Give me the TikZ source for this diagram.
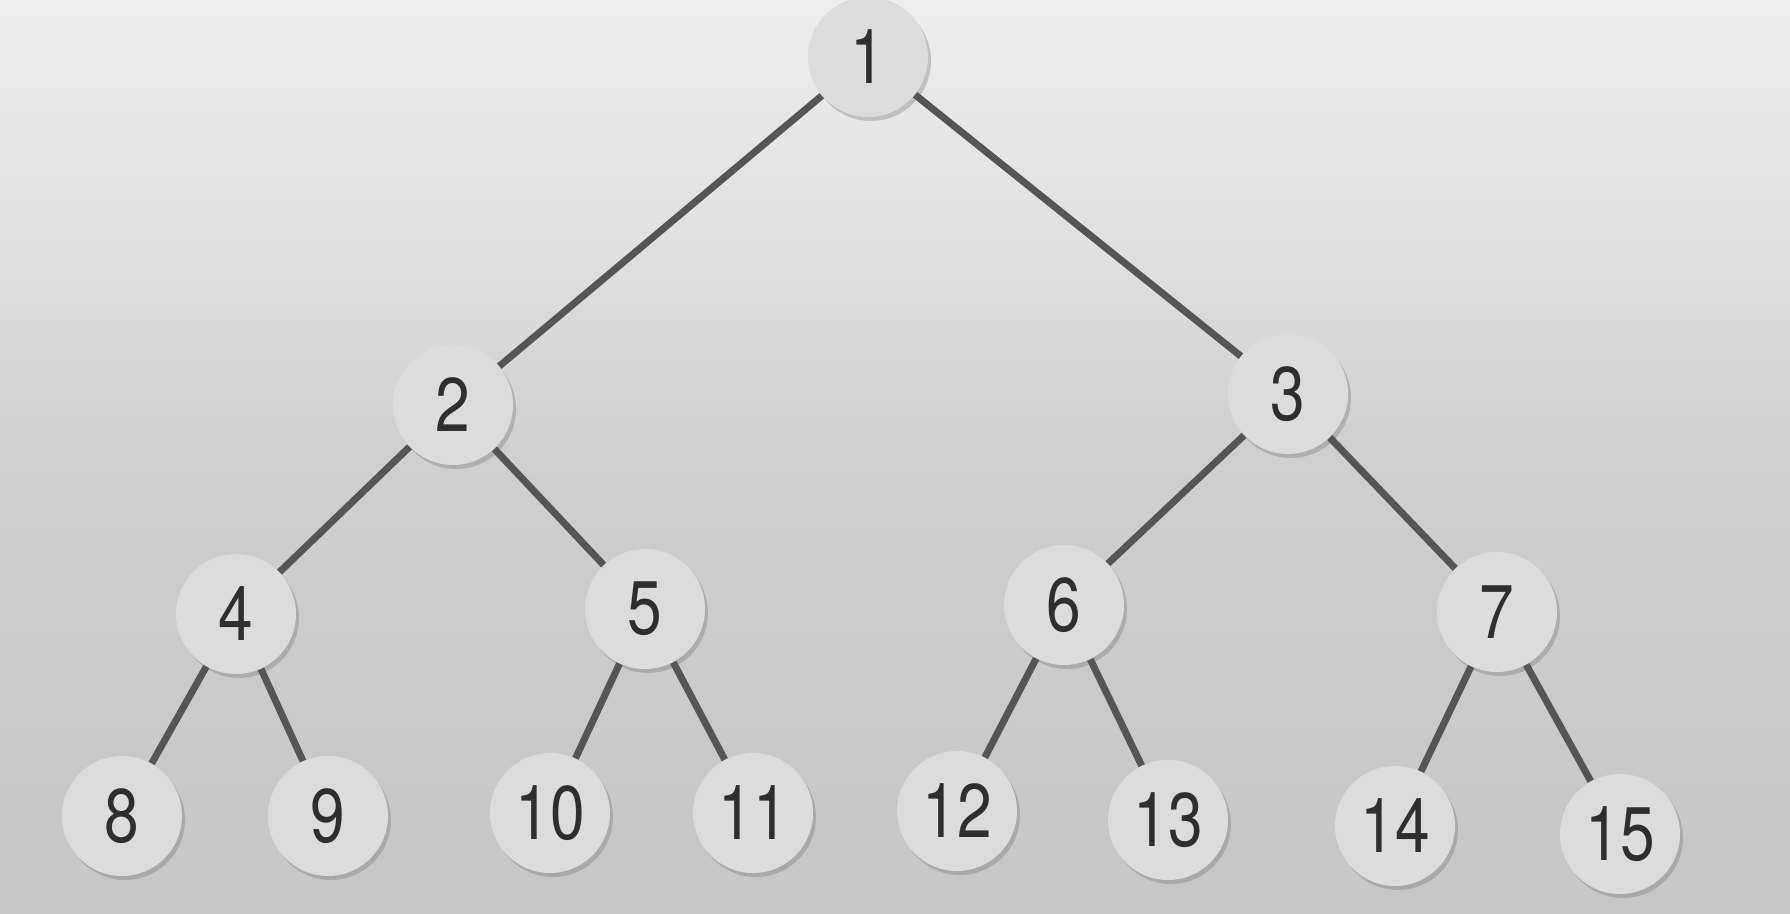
\documentclass[tikz,border=0pt]{standalone}
\usepackage{fontspec}
\setmainfont{TeX Gyre Heros}
\newfontfamily\digitfont[FakeStretch=0.82]{TeX Gyre Heros}
\usetikzlibrary{shadows}
\definecolor{bgtop}{HTML}{EDEDED}
\definecolor{bgmid}{HTML}{E0E0E0}
\definecolor{bgmid2}{HTML}{CFCFCF}
\definecolor{bgbot}{HTML}{C6C6C6}
\definecolor{nodefill}{HTML}{DCDCDC}
\definecolor{edgecol}{HTML}{555555}
\definecolor{textcol}{HTML}{2E2E2E}
\tikzset{
  treenode/.style={circle, minimum size=60pt, inner sep=0pt, fill=nodefill,
    text=textcol, font=\digitfont\fontsize{38}{40}\selectfont,
    drop shadow={shadow xshift=1.5pt, shadow yshift=-2pt, opacity=0.3, fill=black!60}},
  treeedge/.style={draw=edgecol, line width=3.5pt}
}
\begin{document}
\begin{tikzpicture}[x=0.5pt, y=-0.5pt]
  \useasboundingbox (0,0) rectangle (1790,914);
  \shade[top color=bgtop, bottom color=bgmid] (0,0) rectangle (1790,250);
  \shade[top color=bgmid, bottom color=bgmid2] (0,250) rectangle (1790,450);
  \shade[top color=bgmid2, bottom color=bgbot] (0,450) rectangle (1790,914);

  \node[treenode] (n1)  at (868,57)   {1};
  \node[treenode] (n2)  at (453,405)  {2};
  \node[treenode] (n3)  at (1288,394) {3};
  \node[treenode] (n4)  at (236,614)  {4};
  \node[treenode] (n5)  at (645,609)  {5};
  \node[treenode] (n6)  at (1064,605) {6};
  \node[treenode] (n7)  at (1497,612) {7};
  \node[treenode] (n8)  at (122,816)  {8};
  \node[treenode] (n9)  at (328,816)  {9};
  \node[treenode] (n10) at (550,813)  {10};
  \node[treenode] (n11) at (753,813)  {11};
  \node[treenode] (n12) at (957,811)  {12};
  \node[treenode] (n13) at (1168,820) {13};
  \node[treenode] (n14) at (1395,826) {14};
  \node[treenode] (n15) at (1620,834) {15};

  \draw[treeedge] (n1) -- (n2);
  \draw[treeedge] (n1) -- (n3);
  \draw[treeedge] (n2) -- (n4);
  \draw[treeedge] (n2) -- (n5);
  \draw[treeedge] (n3) -- (n6);
  \draw[treeedge] (n3) -- (n7);
  \draw[treeedge] (n4) -- (n8);
  \draw[treeedge] (n4) -- (n9);
  \draw[treeedge] (n5) -- (n10);
  \draw[treeedge] (n5) -- (n11);
  \draw[treeedge] (n6) -- (n12);
  \draw[treeedge] (n6) -- (n13);
  \draw[treeedge] (n7) -- (n14);
  \draw[treeedge] (n7) -- (n15);
\end{tikzpicture}
\end{document}
